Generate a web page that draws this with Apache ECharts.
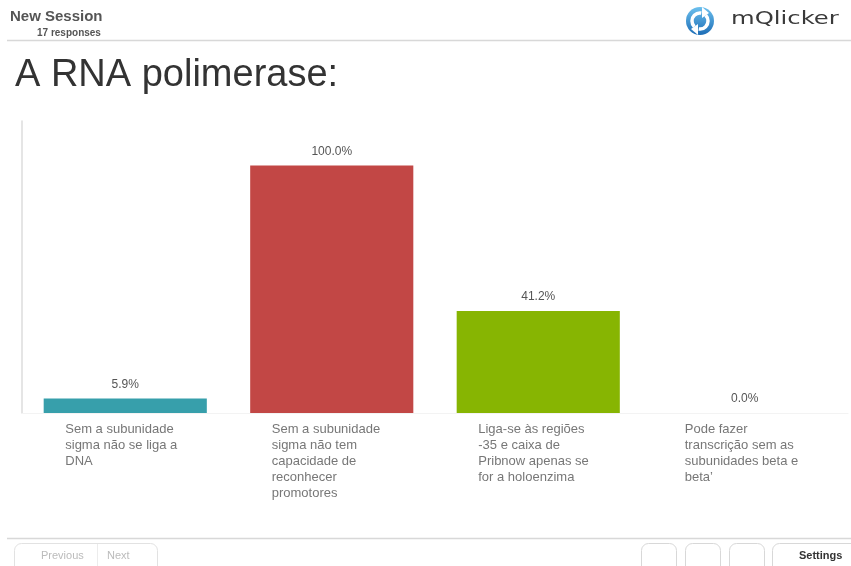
<!DOCTYPE html>
<html>
<head>
<meta charset="utf-8">
<script src="https://cdn.jsdelivr.net/npm/echarts@6/dist/echarts.min.js"></script>
<style>
html,body{margin:0;padding:0;background:#fff;}
#c{width:851px;height:566px;}
</style>
</head>
<body>
<div id="c"></div>
<script>
const categories = [
  "Sem a subunidade\nsigma não se liga a\nDNA",
  "Sem a subunidade\nsigma não tem\ncapacidade de\nreconhecer\npromotores",
  "Liga-se às regiões\n-35 e caixa de\nPribnow apenas se\nfor a holoenzima",
  "Pode fazer\ntranscrição sem as\nsubunidades beta e\nbeta’"
];
const values = [5.9, 100.0, 41.2, 0.0];
const colors = ["#379fab", "#c24745", "#87b502", "#888888"];
const sessionName = "New Session";
const responses = "17 responses";
const question = "A RNA polimerase:";

const chart = echarts.init(document.getElementById('c'));
const font = "Liberation Sans, Arial, Helvetica, sans-serif";
chart.setOption({
  animation: false,
  backgroundColor: '#fff',
  title: [
    {text: sessionName, left: 10, top: 9, padding: 0, textStyle: {fontFamily: font, fontSize: 15, fontWeight: 'bold', color: '#555'}},
    {text: responses, left: 37, top: 28, padding: 0, textStyle: {fontFamily: font, fontSize: 10, fontWeight: 'bold', color: '#555'}},
    {text: question, left: 15, top: 57, padding: 0, textStyle: {fontFamily: font, fontSize: 38, fontWeight: 'normal', color: '#333'}}
  ],
  grid: {left: 22, right: 3, top: 121, bottom: 153, containLabel: false},
  xAxis: {
    type: 'category',
    data: categories,
    axisLine: {show: true, lineStyle: {color: '#f3f3f3', width: 1}},
    axisTick: {show: false},
    axisLabel: {
      interval: 0,
      margin: 8,
      formatter: function (v) { return '{a|' + v.split('\n').join('}\n{a|') + '}'; },
      rich: {a: {width: 120, align: 'left', fontFamily: font, fontSize: 13, lineHeight: 16, color: '#777'}}
    }
  },
  yAxis: {
    type: 'value', min: 0, max: 118,
    axisLine: {show: true, lineStyle: {color: '#dcdcdc', width: 1.5}},
    axisTick: {show: false}, axisLabel: {show: false}, splitLine: {show: false}
  },
  series: [{
    type: 'bar',
    barCategoryGap: '21%',
    data: values.map((v, i) => ({value: v, itemStyle: {color: colors[i]}})),
    label: {
      show: true, position: 'top', distance: 8,
      formatter: p => p.value.toFixed(1) + '%',
      fontFamily: font, fontSize: 12, color: '#555'
    }
  }],
  graphic: [
    {type: 'line', shape: {x1: 7, y1: 40.5, x2: 851, y2: 40.5}, style: {stroke: '#d8d8d8', lineWidth: 1.5}},
    {type: 'line', shape: {x1: 7, y1: 538.5, x2: 851, y2: 538.5}, style: {stroke: '#d8d8d8', lineWidth: 1.5}},
    // logo
    {type: 'circle', shape: {cx: 700, cy: 21, r: 14}, style: {fill: new echarts.graphic.LinearGradient(0,0,0,1,[{offset:0,color:'#6cc0ee'},{offset:1,color:'#1d6db6'}])}},
    {type: 'arc', shape: {cx: 700, cy: 21, r: 8, startAngle: Math.PI*0.75, endAngle: Math.PI*1.55}, style: {stroke: '#fff', lineWidth: 3.5, fill: null}},
    {type: 'arc', shape: {cx: 700, cy: 21, r: 8, startAngle: -Math.PI*0.25, endAngle: Math.PI*0.55}, style: {stroke: '#fff', lineWidth: 3.5, fill: null}},
    {type: 'polygon', shape: {points: [[702,7],[709,13],[702,18]]}, style: {fill: '#fff'}},
    {type: 'polygon', shape: {points: [[698,24],[691,29],[698,35]]}, style: {fill: '#fff'}},
    {type: 'text', x: 731, y: 10, scaleX: 1.35, style: {text: 'mQlicker', fontFamily: 'DejaVu Sans', fontSize: 18, fill: '#3a3a3a'}},
    // footer buttons
    {type: 'rect', shape: {x: 14.5, y: 543.5, width: 143, height: 30, r: 7}, style: {fill: '#fff', stroke: '#e2e2e2', lineWidth: 1}},
    {type: 'line', shape: {x1: 97.5, y1: 544, x2: 97.5, y2: 566}, style: {stroke: '#ececec', lineWidth: 1}},
    {type: 'text', left: 41, top: 550, style: {text: 'Previous', fontFamily: font, fontSize: 11, fill: '#bbb'}},
    {type: 'text', left: 107, top: 550, style: {text: 'Next', fontFamily: font, fontSize: 11, fill: '#bbb'}},
    {type: 'rect', shape: {x: 641.5, y: 543.5, width: 35, height: 30, r: 7}, style: {fill: '#fff', stroke: '#d8d8d8', lineWidth: 1}},
    {type: 'rect', shape: {x: 685.5, y: 543.5, width: 35, height: 30, r: 7}, style: {fill: '#fff', stroke: '#d8d8d8', lineWidth: 1}},
    {type: 'rect', shape: {x: 729.5, y: 543.5, width: 35, height: 30, r: 7}, style: {fill: '#fff', stroke: '#d8d8d8', lineWidth: 1}},
    {type: 'rect', shape: {x: 772.5, y: 543.5, width: 90, height: 30, r: 7}, style: {fill: '#fff', stroke: '#d8d8d8', lineWidth: 1}},
    {type: 'text', left: 799, top: 550, style: {text: 'Settings', fontFamily: font, fontSize: 11, fontWeight: 'bold', fill: '#333'}}
  ]
});
</script>
</body>
</html>
